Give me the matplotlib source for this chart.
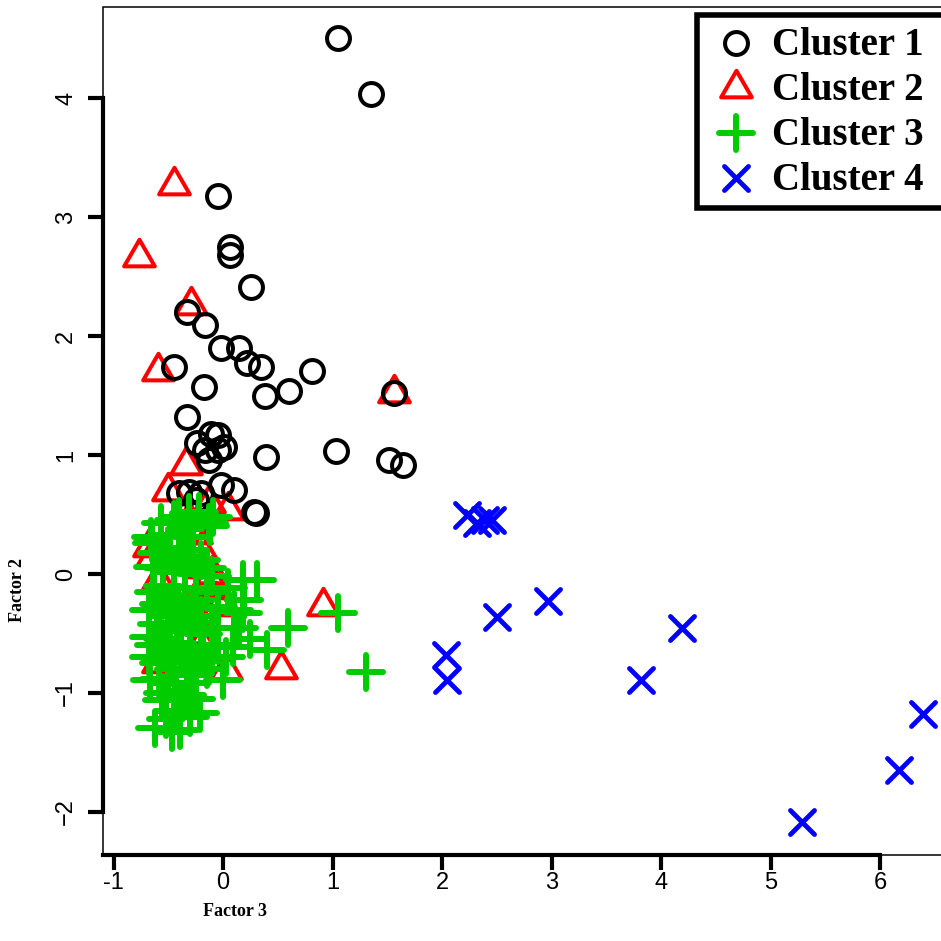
import matplotlib
matplotlib.use("Agg")
import matplotlib.pyplot as plt
from matplotlib.lines import Line2D
from matplotlib.markers import MarkerStyle
from matplotlib.patches import Rectangle
from matplotlib.path import Path

# ---------------- data ----------------
cluster_names = ["Cluster 1", "Cluster 2", "Cluster 3", "Cluster 4"]

c1_x = [1.05, 1.35, -0.05, 0.06, 0.06, 0.26, -0.33, -0.16, -0.02, 0.15, 0.22, 0.35,
        0.81, -0.45, -0.17, 0.38, 0.60, 1.56, -0.33, -0.24, -0.11, -0.05, 0.01, -0.16,
        -0.05, -0.13, 0.39, 1.03, 1.52, 1.64, -0.31, -0.20, -0.02, 0.10, 0.28, -0.40,
        -0.25, 0.30]
c1_y = [4.50, 4.03, 3.18, 2.75, 2.68, 2.41, 2.20, 2.09, 1.90, 1.90, 1.77, 1.74,
        1.71, 1.74, 1.57, 1.50, 1.54, 1.52, 1.32, 1.10, 1.18, 1.17, 1.07, 1.04,
        1.04, 0.96, 0.98, 1.03, 0.96, 0.92, 0.69, 0.68, 0.75, 0.71, 0.52, 0.68,
        0.62, 0.51]

c2_x = [-0.45, -0.77, -0.29, -0.59, 1.56, -0.34, -0.50, 0.05, -0.13, -0.31, -0.25,
        -0.68, -0.65, -0.59, -0.06, -0.10, -0.04, -0.20, -0.20, -0.18, -0.22, -0.16,
        -0.31, -0.59, 0.03, 0.53, 0.91, -0.06]
c2_y = [3.27, 2.66, 2.26, 1.71, 1.52, 0.92, 0.70, 0.54, 0.60, 0.45, 0.34,
        0.23, 0.14, -0.05, -0.22, 0.00, -0.27, 0.20, 0.05, -0.10, -0.55, -0.53,
        -0.50, -0.75, -0.81, -0.80, -0.27, -0.13]

c3_x = [-0.31, -0.13, -0.57, -0.40, -0.09, -0.27, -0.12, -0.22, -0.35, -0.48, -0.66, -0.45,
        -0.65, -0.60, -0.50, -0.40, -0.30, -0.20, -0.64, -0.55, -0.45, -0.35, -0.25, -0.15, -0.10,
        -0.68, -0.63, -0.58, -0.55, -0.50, -0.45, -0.40, -0.35, -0.30, -0.25, -0.20, -0.15,
        -0.10, -0.05, -0.60, -0.48, -0.38, -0.28, -0.18,
        0.18, 0.31, 0.19, 0.18, 0.15, 0.09, 0.05, 0.10,
        -0.68, -0.68, -0.63, -0.58, -0.55, -0.50, -0.45, -0.42, -0.38, -0.33, -0.30, -0.25,
        -0.20, -0.15, -0.10, -0.05, -0.67, -0.58, -0.50, 0.00, 0.03, -0.28,
        0.40, 0.59, 0.25, 1.05, 1.31,
        -0.62, -0.39, -0.21, -0.56, -0.37, -0.45, -0.52, -0.30, -0.43, -0.33, -0.55, -0.25, -0.47]
c3_y = [0.51, 0.43, 0.43, 0.48, 0.48, 0.31, 0.40, 0.52, 0.38, 0.33, 0.31, 0.45,
        0.26, 0.18, 0.22, 0.15, 0.20, 0.12, 0.06, 0.05, 0.02, 0.08, 0.00, 0.05, -0.02,
        -0.30, -0.15, -0.25, -0.10, -0.35, -0.20, -0.30, -0.12, -0.40, -0.22, -0.35, -0.15,
        -0.45, -0.28, -0.42, -0.48, -0.45, -0.28, -0.50,
        -0.05, -0.05, -0.22, -0.33, -0.45, -0.61, -0.12, -0.30,
        -0.53, -0.70, -0.60, -0.75, -0.55, -0.65, -0.80, -0.58, -0.70, -0.85, -0.62, -0.75,
        -0.65, -0.80, -0.70, -0.60, -0.89, -0.88, -0.92, -0.89, -0.70, -0.92,
        -0.64, -0.45, -0.55, -0.33, -0.82,
        -1.29, -1.31, -1.17, -1.06, -1.06, -1.15, -1.22, -1.20, -0.98, -1.02, -1.00, -1.05, -1.33]

c4_x = [2.23, 2.32, 2.39, 2.46, 2.97, 2.50, 2.04, 2.05, 3.82, 4.19, 6.39, 6.17, 5.29]
c4_y = [0.50, 0.43, 0.45, 0.45, -0.23, -0.36, -0.68, -0.89, -0.89, -0.45, -1.18, -1.65, -2.08]

x_ticks = [-1, 0, 1, 2, 3, 4, 5, 6]
x_tick_labels = ["-1", "0", "1", "2", "3", "4", "5", "6"]
y_ticks = [-2, -1, 0, 1, 2, 3, 4]
y_tick_labels = ["\u22122", "\u22121", "0", "1", "2", "3", "4"]
x_label = "Factor 3"
y_label = "Factor 2"

# ---------------- styles ----------------
W = H = 941
tri_path = Path([(0, 1), (-0.866, -0.5), (0.866, -0.5), (0, 1)], closed=True)
styles = [
    dict(marker="o", color="black", ms=16.5, mew=2.9),
    dict(marker=tri_path, color="#FF0000", ms=25.5, mew=2.9),
    dict(marker=MarkerStyle("+", capstyle="round"), color="#00CC00", ms=24, mew=4.3),
    dict(marker=MarkerStyle("x", capstyle="round"), color="#0000FF", ms=17, mew=3.5),
]

fig = plt.figure(figsize=(W / 100, H / 100), dpi=100)
fig.patch.set_facecolor("white")

ax_left_px, ax_right_px, ax_top_px, ax_bottom_px = 103, 975, 7, 855
ax = fig.add_axes([ax_left_px / W, 1 - ax_bottom_px / H,
                   (ax_right_px - ax_left_px) / W, (ax_bottom_px - ax_top_px) / H])

x0_px, xunit = 223, 109.5
y0_px, yunit = 574, 119.0
ax.set_xlim((ax_left_px - x0_px) / xunit, (ax_right_px - x0_px) / xunit)
ax.set_ylim((y0_px - ax_bottom_px) / yunit, (y0_px - ax_top_px) / yunit)

series = [(c2_x, c2_y, styles[1]), (c1_x, c1_y, styles[0]),
          (c3_x, c3_y, styles[2]), (c4_x, c4_y, styles[3])]
for xs, ys, st in series:
    ax.plot(xs, ys, linestyle="none", marker=st["marker"], markersize=st["ms"],
            markeredgewidth=st["mew"], markeredgecolor=st["color"],
            markerfacecolor="none", clip_on=True)

# box (thin) and R-style thick axes
ax.add_patch(Rectangle((0, 0), 1, 1, transform=ax.transAxes, fill=False,
                       lw=1.1, edgecolor="black", clip_on=False, zorder=3))
for s in ["top", "right"]:
    ax.spines[s].set_visible(False)
ax.spines["left"].set_linewidth(3.0)
ax.spines["bottom"].set_linewidth(3.0)
ax.spines["left"].set_bounds(y_ticks[0], y_ticks[-1])
ax.spines["bottom"].set_bounds(ax.get_xlim()[0], x_ticks[-1])

ax.set_xticks(x_ticks)
ax.set_xticklabels(x_tick_labels, fontfamily="Liberation Sans", fontsize=17)
ax.set_yticks(y_ticks)
ax.set_yticklabels(y_tick_labels, fontfamily="Liberation Sans", fontsize=17,
                   rotation=90, va="center")
ax.tick_params(axis="both", direction="out", length=10.5, width=3.0, color="black")
ax.tick_params(axis="x", pad=2)
ax.tick_params(axis="y", pad=8)

ax.set_xlabel(x_label, fontfamily="Liberation Serif", fontweight="bold", fontsize=13,
              va="center")
ax.xaxis.set_label_coords((235 - ax_left_px) / (ax_right_px - ax_left_px),
                          (ax_bottom_px - 912) / (ax_bottom_px - ax_top_px))
ax.set_ylabel(y_label, fontfamily="Liberation Serif", fontweight="bold", fontsize=13,
              va="center")
ax.yaxis.set_label_coords((17 - ax_left_px) / (ax_right_px - ax_left_px),
                          (ax_bottom_px - 590) / (ax_bottom_px - ax_top_px))

# legend (manual, frame extends past the right edge)
leg_l, leg_t, leg_b = 697, 14.5, 208
fig.add_artist(Rectangle((leg_l / W, 1 - leg_b / H), (990 - leg_l) / W,
                         (leg_b - leg_t) / H, transform=fig.transFigure,
                         facecolor="white", edgecolor="black", lw=4.0, zorder=10))
for i, (name, st) in enumerate(zip(cluster_names, styles)):
    yc = 43 + 45 * i
    fig.add_artist(Line2D([736 / W], [1 - yc / H], transform=fig.transFigure,
                          linestyle="none", marker=st["marker"], markersize=st["ms"],
                          markeredgewidth=st["mew"], markeredgecolor=st["color"],
                          markerfacecolor="none", zorder=11))
    fig.text(772 / W, 1 - (yc + 12) / H, name, fontfamily="Liberation Serif",
             fontweight="bold", fontsize=28, ha="left", va="baseline", zorder=11)

fig.savefig("out.png", dpi=100, facecolor="white")
